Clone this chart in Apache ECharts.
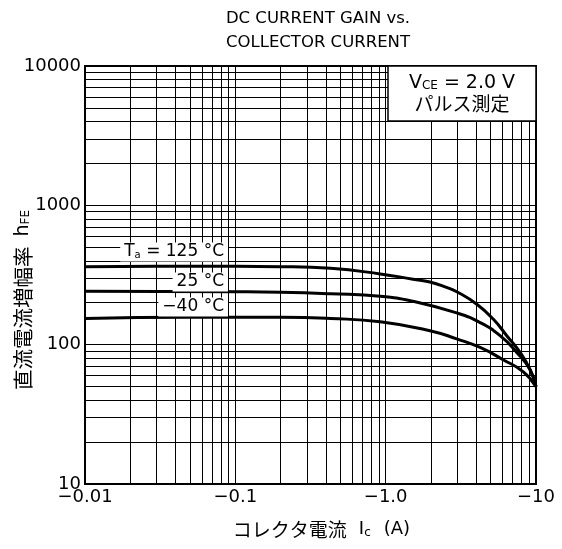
<!DOCTYPE html>
<html><head><meta charset="utf-8">
<script src="https://cdn.jsdelivr.net/npm/echarts@6/dist/echarts.min.js"></script>
<style>html,body{margin:0;padding:0;background:#fff}#c{width:562px;height:549px}</style>
</head><body><div id="c"></div>
<script>
// Axis ticks (x values are magnitudes of the negative collector current)
const currentTicks = [0.01, 0.1, 1, 10];
const currentTickLabels = ['−0.01', '−0.1', '−1.0', '−10'];
const gainTicks = [10, 100, 1000, 10000];
const gainTickLabels = ['10', '100', '1000', '10000'];
const decadeSteps = [2, 3, 4, 5, 6, 7, 8, 9];

// Ta = 125 °C
const current125 = [0.01, 0.03, 0.1, 0.2, 0.43, 0.92, 1.52, 1.97, 2.54, 2.97, 4.04, 5.21, 6.39, 7.84, 9.14, 10];
const gain125    = [363, 365, 365, 363, 353, 322, 295, 282, 258, 240, 195, 152, 116, 88, 66, 50];
// Ta = 25 °C
const current25 = [0.01, 0.1, 0.2, 0.43, 0.92, 1.52, 2.97, 4.25, 5.77, 7.45, 9.14, 10];
const gain25    = [242, 240, 238, 232, 223, 205, 169, 144, 116, 88, 66, 50];
// Ta = -40 °C
const currentM40 = [0.01, 0.05, 0.2, 0.43, 0.92, 1.97, 2.97, 4.25, 6.04, 8.2, 10];
const gainM40    = [154, 157, 157, 154, 146, 126, 110, 95.5, 78, 64, 50];

const zip = (xs, ys) => xs.map((x, i) => [x, ys[i]]);

// minor grid lines at 2..9 within each decade
const gridX = [];
currentTicks.slice(0, -1).forEach(d => decadeSteps.forEach(s => gridX.push(+(d * s).toPrecision(3))));
const gridY = [];
gainTicks.slice(0, -1).forEach(d => decadeSteps.forEach(s => gridY.push(+(d * s).toPrecision(3))));

const FONT = '"DejaVu Sans", "Noto Sans CJK JP", sans-serif';
const CJK = '"Noto Sans CJK JP", "DejaVu Sans", sans-serif';

function tickLabel(v, ticks, labels) {
  const i = ticks.findIndex(t => Math.abs(Math.log10(t) - Math.log10(v)) < 1e-6);
  return i >= 0 ? labels[i] : '';
}

const chart = echarts.init(document.getElementById('c'), null, {renderer: 'canvas'});
const curveStyle = {color: '#000', width: 3};
chart.setOption({
  animation: false,
  backgroundColor: '#fff',
  title: {
    text: 'DC CURRENT GAIN vs.\nCOLLECTOR CURRENT',
    left: 313, top: 2, textAlign: 'center',
    textStyle: {fontFamily: FONT, fontSize: 16.5, fontWeight: 'normal', color: '#000', lineHeight: 24}
  },
  grid: {left: 85, right: 26, top: 66, bottom: 65, show: true, borderColor: '#000', borderWidth: 2,
         backgroundColor: 'transparent', outerBoundsMode: 'none', containLabel: false},
  xAxis: {
    type: 'log', logBase: 10, min: 0.01, max: 10,
    name: '{cj|コレクタ電流}{i|I}{s|c}{a|(A)}',
    nameLocation: 'middle', nameGap: 36, nameMoveOverlap: false,
    nameTextStyle: {padding: [0, 0, 0, 22], rich: {
      cj: {fontFamily: CJK, fontSize: 19, color: '#000', padding: [0, 12, 0, 0]},
      i: {fontFamily: FONT, fontSize: 18, color: '#000'},
      s: {fontFamily: FONT, fontSize: 12, color: '#000', padding: [6, 0, 0, 0]},
      a: {fontFamily: FONT, fontSize: 18, color: '#000', padding: [0, 0, 0, 13]}
    }},
    axisLine: {show: true, lineStyle: {color: '#000', width: 2}},
    axisTick: {show: false},
    splitLine: {show: true, lineStyle: {color: '#000', width: 1}},
    axisLabel: {fontFamily: FONT, fontSize: 18, color: '#000', margin: 4,
      formatter: v => tickLabel(v, currentTicks, currentTickLabels)}
  },
  yAxis: {
    type: 'log', logBase: 10, min: 10, max: 10000,
    name: '{cj|直流電流増幅率}   {i|h}{s|FE}',
    nameLocation: 'middle', nameGap: 52, nameRotate: 90, nameMoveOverlap: false,
    nameTextStyle: {padding: [0, 50, 0, 0], rich: {
      cj: {fontFamily: CJK, fontSize: 20.5, color: '#000'},
      i: {fontFamily: FONT, fontSize: 19, color: '#000'},
      s: {fontFamily: FONT, fontSize: 12, color: '#000', padding: [6, 0, 0, 0]}
    }},
    axisLine: {show: true, lineStyle: {color: '#000', width: 2}},
    axisTick: {show: false},
    splitLine: {show: true, lineStyle: {color: '#000', width: 1}},
    axisLabel: {fontFamily: FONT, fontSize: 18, color: '#000', margin: 4,
      formatter: v => tickLabel(v, gainTicks, gainTickLabels)}
  },
  series: [
    {
      type: 'line', data: [], z: 1, silent: true,
      markLine: {
        silent: true, symbol: ['none', 'none'], label: {show: false}, animation: false,
        lineStyle: {color: '#000', width: 1, type: 'solid'},
        data: gridX.map(v => ({xAxis: v})).concat(gridY.map(v => ({yAxis: v})))
      }
    },
    {type: 'line', name: '125', data: zip(current125, gain125), showSymbol: false, smooth: true, lineStyle: curveStyle, z: 3},
    {type: 'line', name: '25', data: zip(current25, gain25), showSymbol: false, smooth: true, lineStyle: curveStyle, z: 3},
    {type: 'line', name: '-40', data: zip(currentM40, gainM40), showSymbol: false, smooth: true, lineStyle: curveStyle, z: 3}
  ],
  graphic: [
    {type: 'rect', shape: {x: 388, y: 66, width: 148, height: 55}, style: {fill: '#fff', stroke: '#000', lineWidth: 1.5}, z: 10},
    {type: 'text', x: 462, y: 83, z: 11, style: {
      text: '{v|V}{s|CE}{v| = 2.0 V}', align: 'center', verticalAlign: 'middle',
      rich: {v: {fontFamily: FONT, fontSize: 19, fill: '#000'}, s: {fontFamily: FONT, fontSize: 12, fill: '#000', padding: [5, 0, 0, 0]}}
    }},
    {type: 'text', x: 462, y: 104, z: 11, style: {
      text: 'パルス測定', align: 'center', verticalAlign: 'middle', font: '19px ' + CJK, fill: '#000'
    }},
    {type: 'text', x: 228, y: 252, z: 11, style: {
      text: '{v|T}{s|a}{v| = 125 °C}', align: 'right', verticalAlign: 'middle', backgroundColor: '#fff', padding: [1, 4, 1, 4],
      rich: {v: {fontFamily: FONT, fontSize: 17, fill: '#000'}, s: {fontFamily: FONT, fontSize: 10, fill: '#000', padding: [6, 0, 0, 0]}}
    }},
    {type: 'text', x: 228, y: 282, z: 11, style: {
      text: '25 °C', align: 'right', verticalAlign: 'middle', backgroundColor: '#fff', padding: [1, 4, 1, 4],
      font: '17px ' + FONT, fill: '#000'
    }},
    {type: 'text', x: 228, y: 307, z: 11, style: {
      text: '−40 °C', align: 'right', verticalAlign: 'middle', backgroundColor: '#fff', padding: [1, 4, 1, 4],
      font: '17px ' + FONT, fill: '#000'
    }}
  ]
});
</script>
</body></html>
